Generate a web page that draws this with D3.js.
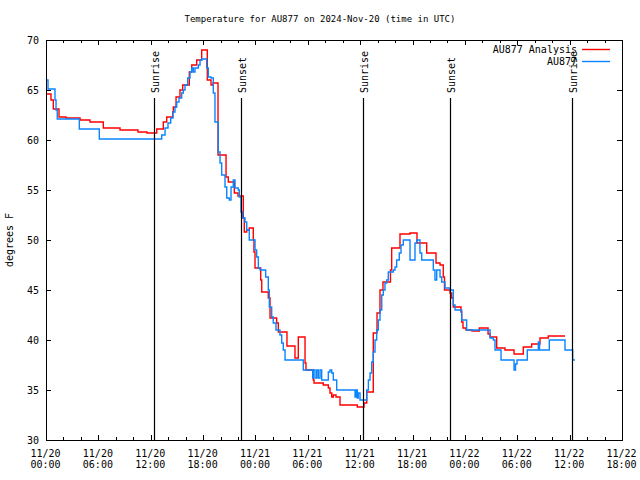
<!DOCTYPE html>
<html><head><meta charset="utf-8">
<script src="https://cdn.jsdelivr.net/npm/d3@7"></script>
<style>
body{margin:0;background:#fff}
svg text{font-family:"DejaVu Sans Mono",monospace;font-size:10px;fill:#000}
</style></head><body>
<svg id="c" width="640" height="480"></svg>
<script>
const title = "Temperature for AU877 on 2024-Nov-20 (time in UTC)";
const yLabel = "degrees F";
const startTime = "2024-11-20T00:00:00Z";
const endTime = "2024-11-22T18:00:00Z";
const yDomain = [30, 70];
const yTicks = [30, 35, 40, 45, 50, 55, 60, 65, 70];
const seriesNames = ["AU877 Analysis", "AU877"];
const seriesColors = ["#ff0000", "#0a84ff"];

// hours since 2024-11-20 00:00 UTC, temperature (F)
const analysisHours = [0,0.57,0.84,1.49,2.29,3.90,5.04,6.57,8.48,10.54,11.57,12.69,13.44,13.83,14.52,14.59,14.90,15.35,15.66,16.42,16.70,17.27,17.84,18.48,18.91,19.14,19.71,20.63,20.89,21.58,22.00,22.61,22.72,23.00,23.29,23.75,23.83,23.95,24.60,24.72,25.47,25.67,26.43,26.62,27.61,28.53,28.91,29.68,29.79,30.63,30.71,31.77,32.35,32.54,32.74,32.92,33.23,33.69,35.67,36.44,36.75,37.50,37.93,38.27,38.61,39.47,39.61,40.56,41.71,42.51,43.62,44.69,45.15,45.52,45.66,46.29,46.49,46.67,47.55,47.63,47.78,48.12,48.81,49.65,50.65,50.88,51.64,52.59,53.63,54.69,55.65,56.60,57.55,59.47];
const analysisTemps = [64.6,64.0,63.1,62.3,62.2,62.0,61.8,61.2,61.0,60.8,60.7,61.1,61.8,62.3,62.8,63.3,64.3,65.0,65.5,66.8,67.5,68.0,69.0,66.0,65.5,65.7,58.5,56.3,55.8,54.7,54.4,52.2,50.8,51.0,51.2,50.0,48.8,47.2,46.0,44.8,44.2,42.2,41.7,40.8,39.4,38.2,40.3,37.7,37.0,36.0,35.7,35.5,35.2,34.7,34.3,34.5,34.3,33.5,33.3,33.7,34.8,40.7,42.7,45.0,45.8,47.0,49.2,50.6,50.7,49.7,48.7,47.7,47.5,46.3,45.0,44.7,44.2,43.3,42.8,41.8,41.2,41.0,40.9,41.2,40.6,40.3,39.2,39.0,38.6,39.3,39.6,40.2,40.4,40.4];

const obsHours = [0,0.23,1.03,1.15,1.29,3.82,6.11,13.26,13.64,13.98,14.29,14.55,14.78,14.98,15.24,15.55,15.73,15.93,16.24,16.50,16.70,16.88,17.07,17.45,17.65,17.84,18.41,18.60,18.91,19.17,19.36,19.74,19.94,20.13,20.51,20.71,21.00,21.20,21.46,21.66,22.03,22.15,22.34,22.54,22.80,23.00,23.29,23.95,24.14,24.33,24.52,25.17,25.47,25.59,25.86,26.04,26.35,26.81,27.01,27.19,27.39,29.48,30.56,30.63,30.82,31.02,31.20,31.40,31.59,32.35,32.54,32.74,32.92,33.31,35.41,35.52,35.67,35.78,35.98,36.75,36.94,37.13,37.32,37.50,37.70,37.89,38.08,38.27,38.47,38.65,38.84,39.04,39.22,39.79,39.99,40.18,40.48,40.68,40.94,41.71,42.28,42.48,42.85,43.05,44.38,44.57,44.77,45.15,45.34,45.72,46.29,46.67,46.87,47.63,48.20,50.88,51.26,51.45,52.14,53.63,53.80,53.97,55.15,56.41,56.55,57.67,59.47,60.35,60.61];
const obsTemps = [66.0,65.1,64.0,63.0,62.1,61.1,60.1,60.5,61.2,61.7,62.2,62.8,63.3,63.8,64.2,64.7,65.0,65.5,66.2,66.8,67.2,66.8,67.2,67.5,68.0,68.1,67.2,66.3,66.2,64.7,61.8,58.8,57.7,56.5,55.3,54.2,54.0,55.3,56.0,55.2,55.0,54.3,52.8,52.2,51.8,51.0,50.0,49.0,48.3,47.2,47.0,46.3,45.0,43.3,42.3,41.7,41.0,40.5,39.7,39.0,38.0,37.0,36.2,37.0,36.2,37.0,36.2,37.0,36.0,36.8,37.0,36.7,36.0,35.0,34.3,35.0,34.2,34.7,34.0,35.0,36.0,36.7,37.8,38.8,40.0,41.0,42.0,43.0,44.5,45.0,45.7,46.0,46.8,47.0,47.3,48.0,48.7,49.5,50.0,48.0,49.7,50.0,48.7,48.0,47.0,46.0,47.0,46.3,45.8,45.2,45.0,43.5,43.0,42.0,41.0,40.2,40.0,39.0,38.0,37.0,37.6,38.0,39.0,39.8,39.0,40.0,39.0,38.0,38.0];

const sunLabels = ["Sunrise", "Sunset", "Sunrise", "Sunset", "Sunrise"];
const sunHours = [12.40, 22.35, 36.35, 46.32, 60.30];
const sunLineTop = 64.2;

const L = 46, R = 622, T = 40, B = 440;
const svg = d3.select("#c");
const t0 = new Date(startTime), t1 = new Date(endTime);
const toDate = h => new Date(t0.getTime() + h * 3600e3);
const x = d3.scaleUtc().domain([t0, t1]).range([L, R]);
const y = d3.scaleLinear().domain(yDomain).range([B, T]);

const majors = d3.utcHour.every(6).range(t0, new Date(t1.getTime() + 1));
const minors = d3.utcHour.every(2).range(t0, new Date(t1.getTime() + 1));

function tickAxis(g, axis) {
  g.call(axis);
  g.select(".domain").remove();
  g.selectAll("line").attr("stroke", "#000").attr("shape-rendering", "crispEdges");
  g.selectAll("text").remove();
}
svg.append("g").attr("transform", `translate(0,${B})`)
  .call(g => tickAxis(g, d3.axisBottom(x).tickValues(minors).tickSizeInner(-3).tickSizeOuter(0)));
svg.append("g").attr("transform", `translate(0,${B})`)
  .call(g => tickAxis(g, d3.axisBottom(x).tickValues(majors).tickSizeInner(-5).tickSizeOuter(0)));
svg.append("g").attr("transform", `translate(0,${T})`)
  .call(g => tickAxis(g, d3.axisTop(x).tickValues(minors).tickSizeInner(-3).tickSizeOuter(0)));
svg.append("g").attr("transform", `translate(0,${T})`)
  .call(g => tickAxis(g, d3.axisTop(x).tickValues(majors).tickSizeInner(-5).tickSizeOuter(0)));
svg.append("g").attr("transform", `translate(${L},0)`)
  .call(g => tickAxis(g, d3.axisLeft(y).tickValues(yTicks).tickSizeInner(-5).tickSizeOuter(0)));
svg.append("g").attr("transform", `translate(${R},0)`)
  .call(g => tickAxis(g, d3.axisRight(y).tickValues(yTicks).tickSizeInner(-5).tickSizeOuter(0)));

const fmtD = d3.utcFormat("%m/%d"), fmtT = d3.utcFormat("%H:%M");
const gxl = svg.append("g").attr("transform", `translate(0,${B})`)
  .call(d3.axisBottom(x).tickValues(majors).tickSize(0));
gxl.select(".domain").remove();
gxl.selectAll("text").each(function(d) {
  const t = d3.select(this).text(null).attr("y", 17).attr("dy", null).attr("x", -1)
    .attr("font-family", null).attr("font-size", null);
  t.append("tspan").attr("x", -1).text(fmtD(d));
  t.append("tspan").attr("x", -1).attr("dy", 11).text(fmtT(d));
});
const gyl = svg.append("g").attr("transform", `translate(${L},0)`)
  .call(d3.axisLeft(y).tickValues(yTicks).tickSize(0).tickPadding(7));
gyl.select(".domain").remove();
gyl.selectAll("text").attr("font-family", null).attr("font-size", null);

const line = d3.line().curve(d3.curveStepAfter).x(d => x(toDate(d[0]))).y(d => y(d[1]));
const series = [d3.zip(analysisHours, analysisTemps), d3.zip(obsHours, obsTemps)];
series.forEach((s, i) => {
  svg.append("path").datum(s).attr("d", line).attr("fill", "none")
    .attr("stroke", seriesColors[i]).attr("stroke-width", 1.4);
});

sunHours.forEach((h, i) => {
  const xx = Math.round(x(toDate(h))) + 0.5;
  svg.append("line").attr("x1", xx).attr("x2", xx).attr("y1", y(sunLineTop)).attr("y2", y(yDomain[0]))
    .attr("stroke", "#000").attr("stroke-width", 1.2);
  svg.append("text").attr("transform", `translate(${xx + 1},${y(sunLineTop) - 5}) rotate(-90)`)
    .attr("dominant-baseline", "central").text(sunLabels[i]);
});

svg.append("rect").attr("x", L + 0.5).attr("y", T + 0.5).attr("width", R - L).attr("height", B - T)
  .attr("fill", "none").attr("stroke", "#000").attr("shape-rendering", "crispEdges");

seriesNames.forEach((n, i) => {
  const ly = 49.5 + i * 12;
  svg.append("text").attr("x", 577).attr("y", ly).attr("dominant-baseline", "central")
    .attr("text-anchor", "end").text(n);
  svg.append("line").attr("x1", 582).attr("x2", 610).attr("y1", ly).attr("y2", ly)
    .attr("stroke", seriesColors[i]).attr("stroke-width", 1.4);
});

svg.append("text").attr("x", 320).attr("y", 19).attr("text-anchor", "middle")
  .attr("dominant-baseline", "central").style("font-size", "9px").text(title);
svg.append("text").attr("transform", "translate(9,240) rotate(-90)").attr("text-anchor", "middle")
  .attr("dominant-baseline", "central").text(yLabel);
</script>
</body></html>
